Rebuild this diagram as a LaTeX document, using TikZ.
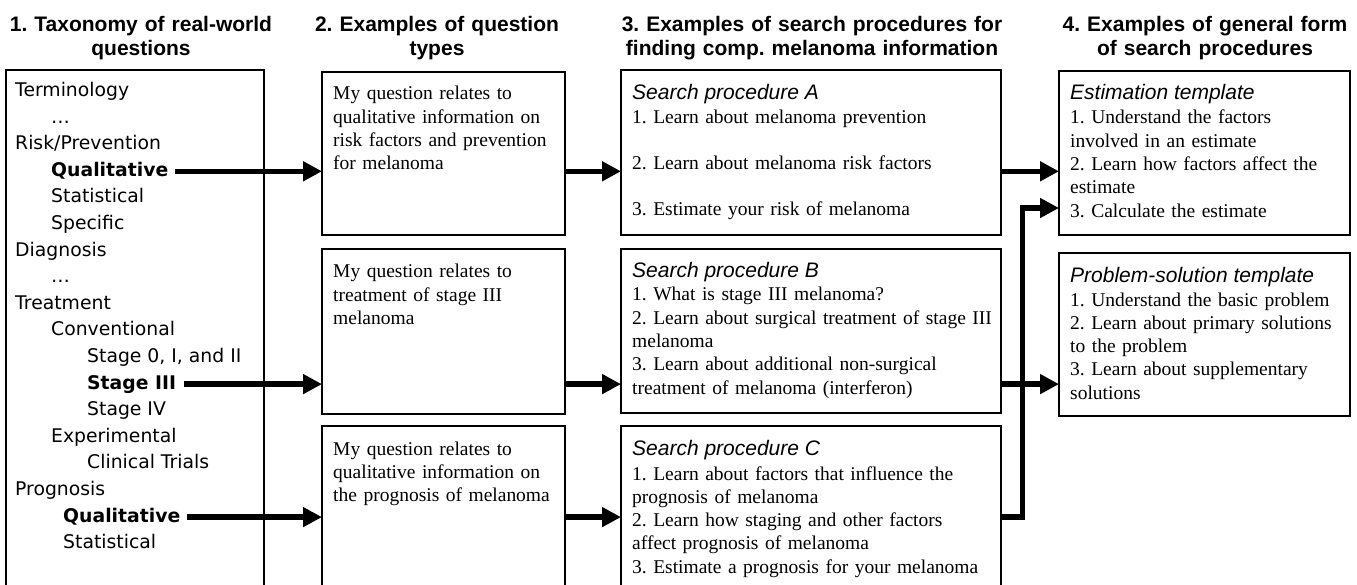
\documentclass[tikz,border=0pt]{standalone}
\usepackage{fontspec}
\setmainfont{Liberation Serif}
\setsansfont{Liberation Sans}
\newfontfamily\verdana{DejaVu Sans}
\usepackage{tikz}
\usetikzlibrary{arrows.meta, positioning, calc}

\tikzset{
  box/.style={draw, line width=1.4pt, inner sep=0pt, outer sep=0pt,
              anchor=north west},
  tax/.style={font=\verdana\fontsize{18.8}{22}\selectfont, inner sep=0pt,
              text height=10pt, text depth=0pt, anchor=base west},
  head/.style={font=\sffamily\bfseries\fontsize{21}{24}\selectfont,
               text width=420pt, align=center, inner sep=0pt, anchor=base},
  title/.style={font=\sffamily\itshape\fontsize{21}{24}\selectfont,
                inner sep=0pt, anchor=base west},
  body/.style={font=\fontsize{19.5}{23.3}\selectfont, text width=420pt,
               align=left, inner sep=0pt, anchor=base west},
  flow/.style={-{Triangle[length=19pt, width=19pt]}, line width=5.5pt}
}

\begin{document}
\frenchspacing
\begin{tikzpicture}[x=1pt, y=-1pt]
  \useasboundingbox (0,0) rectangle (1357,585);
  % headings
  \node[head] (h1) at (141,31.5) {1. Taxonomy of real-world\\questions};
  \node[head] (h2) at (437,31.5) {2. Examples of question\\types};
  \node[head] (h3) at (812,31.5) {3. Examples of search procedures for\\finding comp. melanoma information};
  \node[head] (h4) at (1205,31.5) {4. Examples of general form\\of search procedures};

  % boxes
  \node[box, minimum width=258pt, minimum height=530pt] (tax) at (6,70) {};
  \node[box, minimum width=243pt, minimum height=163pt] (qa) at (322,72) {};
  \node[box, minimum width=243pt, minimum height=165pt] (qb) at (322,249) {};
  \node[box, minimum width=243pt, minimum height=175pt] (qc) at (322,426) {};
  \node[box, minimum width=380pt, minimum height=165pt] (sa) at (621,70) {};
  \node[box, minimum width=380pt, minimum height=164pt] (sb) at (621,249) {};
  \node[box, minimum width=380pt, minimum height=175pt] (sc) at (621,426) {};
  \node[box, minimum width=291pt, minimum height=164pt] (te) at (1059,71) {};
  \node[box, minimum width=291pt, minimum height=163pt] (tp) at (1059,253) {};

  % taxonomy
  \foreach \t/\x [count=\i from 0] in {Terminology/15, …/51,
      {Risk/Prevention}/15, \textbf{Qualitative}/51, Statistical/51,
      Specific/51, Diagnosis/15, …/51, Treatment/15, Conventional/51,
      {Stage 0, I, and II}/87, \textbf{Stage III}/87, Stage IV/87,
      Experimental/51, Clinical Trials/87, Prognosis/15,
      \textbf{Qualitative}/63, Statistical/63}
    \node[tax] (t\i) at (\x, 96.5+26.6*\i) {\t};

  % question types
  \node[body] (qat) at (333,100) {My question relates to\\qualitative information on\\risk factors and prevention\\for melanoma};
  \node[body] (qbt) at (333,278) {My question relates to\\treatment of stage III\\melanoma};
  \node[body] (qct) at (333,455) {My question relates to\\qualitative information on\\the prognosis of melanoma};

  % search procedures
  \node[title] (sah) at (632,100) {Search procedure A};
  \node[body] (sat) at (632,124) {1. Learn about melanoma prevention\\[22.7pt]2. Learn about melanoma risk factors\\[22.7pt]3. Estimate your risk of melanoma};
  \node[title] (sbh) at (632,277.5) {Search procedure B};
  \node[body] (sbt) at (632,301) {1. What is stage III melanoma?\\2. Learn about surgical treatment of stage III\\melanoma\\3. Learn about additional non-surgical\\treatment of melanoma (interferon)};
  \node[title] (sch) at (632,455) {Search procedure C};
  \node[body] (sct) at (632,480) {1. Learn about factors that influence the\\prognosis of melanoma\\2. Learn how staging and other factors\\affect prognosis of melanoma\\3. Estimate a prognosis for your melanoma};

  % templates
  \node[title] (teh) at (1070,100) {Estimation template};
  \node[body] (tet) at (1070,124) {1. Understand the factors\\involved in an estimate\\2. Learn how factors affect the\\estimate\\3. Calculate the estimate};
  \node[title] (tph) at (1070,282.5) {Problem-solution template};
  \node[body] (tpt) at (1070,306) {1. Understand the basic problem\\2. Learn about primary solutions\\to the problem\\3. Learn about supplementary\\solutions};

  % arrows
  \coordinate (jn) at (1022.5,208);
  \draw[flow] ([xshift=7pt]t3.east) -- (t3.east -| qa.west);
  \draw[flow] ([xshift=8pt]t11.east) -- (t11.east -| qb.west);
  \draw[flow] ([xshift=7pt]t16.east) -- (t16.east -| qc.west);
  \draw[flow] (t3.east -| qa.east) -- (t3.east -| sa.west);
  \draw[flow] (t11.east -| qb.east) -- (t11.east -| sb.west);
  \draw[flow] (t16.east -| qc.east) -- (t16.east -| sc.west);
  \draw[flow] (t3.east -| sa.east) -- (t3.east -| te.west);
  \draw[flow] (t11.east -| sb.east) -- (t11.east -| tp.west);
  \draw[flow] (t16.east -| sc.east) -| (jn) -- (jn -| te.west);
\end{tikzpicture}
\end{document}
